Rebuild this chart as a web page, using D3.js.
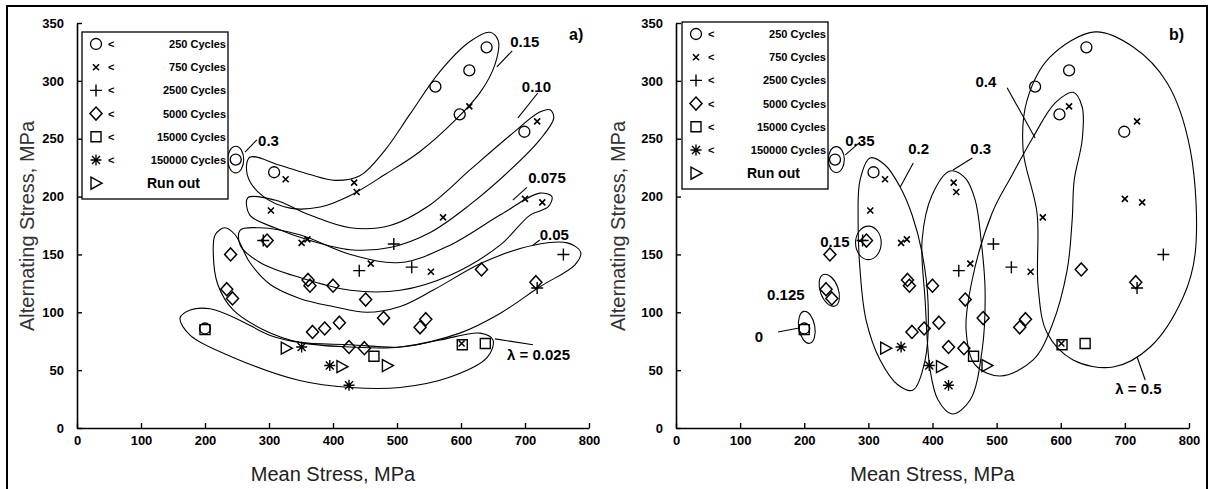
<!DOCTYPE html>
<html><head><meta charset="utf-8">
<script src="https://cdn.jsdelivr.net/npm/d3@7"></script>
<style>body{margin:0;background:#fff}svg{display:block}</style>
</head><body>
<svg id="fig" width="1211" height="489"></svg>
<script>
// Axis ticks
const xTickValues = [0, 100, 200, 300, 400, 500, 600, 700, 800];
const yTickValues = [0, 50, 100, 150, 200, 250, 300, 350];

// Test results: [mean stress, alternating stress] in MPa, grouped by life
const lifeCircle = [[200, 86], [248, 232], [308, 221], [560, 295], [598, 271], [613, 309], [640, 329], [699, 256]];
const lifeCross = [[303, 188], [326, 215], [351, 160], [360, 163], [433, 212], [437, 204], [459, 142], [553, 135], [572, 182], [601, 73], [613, 278], [700, 198], [719, 265], [727, 195]];
const lifePlus = [[291, 162], [441, 136], [495, 159], [523, 139], [719, 121], [760, 150]];
const lifeDiamond = [[234, 120], [240, 150], [243, 112], [297, 162], [361, 128], [364, 123], [368, 83], [387, 86], [400, 123], [410, 91], [425, 70], [449, 69], [451, 111], [479, 95], [536, 87], [545, 94], [632, 137], [717, 126]];
const lifeSquare = [[200, 85], [464, 62], [602, 72], [638, 73]];
const lifeStar = [[351, 70], [395, 54], [425, 37]];
const runOut = [[327, 69], [414, 53], [485, 54]];

const legendLabels = ["250 Cycles", "750 Cycles", "2500 Cycles", "5000 Cycles", "15000 Cycles", "150000 Cycles", "Run out"];

// Enclosing outlines, panel (a): closed curves through [mean, alternating] points
const outlinesA = [
  [[270, 234], [317, 227], [364, 219], [403, 214], [442, 218], [481, 240], [520, 271], [567, 308], [614, 334], [645, 342], [658, 335], [653, 314], [630, 290], [591, 266], [536, 239], [481, 219], [427, 201], [380, 191], [333, 190], [289, 201], [266, 219]],
  [[267, 199], [309, 197], [364, 184], [427, 173], [489, 175], [552, 193], [614, 223], [677, 253], [723, 273], [739, 275], [745, 268], [723, 249], [677, 223], [614, 193], [552, 169], [489, 156], [427, 154], [364, 162], [309, 173], [270, 184]],
  [[255, 171], [286, 173], [348, 167], [427, 150], [505, 143], [583, 158], [661, 184], [723, 203], [742, 200], [736, 191], [708, 184], [661, 158], [583, 132], [505, 119], [427, 119], [348, 130], [286, 143], [255, 158]],
  [[231, 173], [247, 167], [270, 143], [302, 124], [348, 112], [400, 105], [453, 100], [505, 105], [556, 119], [634, 143], [713, 158], [766, 160], [787, 152], [778, 141], [723, 122], [661, 99], [598, 82], [505, 70], [427, 70], [348, 74], [291, 85], [244, 102], [220, 124], [213, 150], [216, 167]],
  [[161, 95], [177, 102], [208, 103], [255, 93], [302, 80], [348, 74], [427, 72], [505, 70], [567, 76], [630, 82], [650, 76], [641, 61], [583, 44], [505, 35], [427, 35], [348, 41], [244, 61], [177, 80]]
];
// Small ellipses: [centre mean, centre alternating, half-width, half-height, tilt deg]
const ellipsesA = [[248, 232, 12.5, 11.5, 0]];
// Outline labels: [text, x, y] and leader lines [x1, y1, x2, y2]
const labelsA = [["0.3", 283, 244], ["0.15", 677, 329], ["0.10", 695, 290], ["0.075", 705, 212], ["0.05", 723, 162.5], ["\u03bb = 0.025", 672, 59]];
const leadersA = [[262.5, 238.5, 281, 249], [656, 312, 680, 326], [720, 289.5, 689, 268], [703, 208, 681, 197], [712.5, 158, 723, 162.5], [653, 77, 712.5, 72]];

// Enclosing outlines, panel (b)
const outlinesB = [
  [[653.7, 342.3], [713, 329.3], [766, 298.2], [802, 240.3], [809.7, 151.3], [791, 113.2], [739.5, 70], [681.7, 52.7], [619.3, 58.8], [578.8, 82.1], [564.7, 121.9], [563, 185.8], [541.3, 240.3], [547.6, 283.5], [583.5, 320.7]],
  [[619.3, 290.1], [633.4, 277.4], [633.4, 248.9], [621, 214.3], [617.8, 179.8], [610, 136.6], [586.6, 89], [557, 58.8], [505.5, 45], [466.5, 54.5], [452.4, 84.7], [461.8, 127.9], [493, 185.8], [524.2, 218.7], [557, 251.5], [591.3, 280.9]],
  [[427.5, 222.1], [450.9, 216.1], [466.5, 197.1], [475.8, 162.5], [482, 119.3], [477.4, 67.4], [458.7, 24.2], [430.6, 12.1], [408.7, 24.2], [396.3, 50.1], [388.5, 110.6], [383.8, 162.5], [399.4, 201.4]],
  [[302.7, 233.4], [326, 227.3], [349.5, 208.3], [368.2, 184.1], [383.8, 151.3], [393.1, 108], [388.5, 58.8], [369.7, 32.8], [346.3, 37.2], [318.3, 58.8], [296.4, 93.3], [287, 136.6], [284, 179.8], [287, 214.3]]
];
const ellipsesB = [[250, 232, 12.5, 11.2, 0], [300, 160, 20, 14.5, 0], [239, 119, 14, 14.5, -20], [204, 87, 12.5, 14, -10]];
const labelsB = [["0.35", 264, 244], ["0.2", 362, 237], ["0.3", 459, 237], ["0.4", 467, 295], ["0.15", 225, 156], ["0.125", 142, 111], ["0", 123, 74], ["\u03bb = 0.5", 685, 29]];
const leadersB = [[264, 236, 287, 247], [370, 229, 349.5, 208], [462, 233.4, 432, 223], [516.4, 294, 560, 250.6], [284, 161, 296, 162.5], [159, 83, 192, 86.4], [731.7, 41.5, 719, 61.4]];

const svg = d3.select("#fig");
const ink = "#000";

// Outer frame
svg.append("path").attr("d", "M7,489V6H1207V489").attr("fill", "none").attr("stroke", ink).attr("stroke-width", 2);

function marker(type) {
  switch (type) {
    case "circle": return "M5.5,0A5.5,5.5,0,1,1,-5.5,0A5.5,5.5,0,1,1,5.5,0Z";
    case "cross": return "M-3,-3L3,3M-3,3L3,-3";
    case "plus": return "M-6,0H6M0,-6V6";
    case "diamond": return "M0,-6.5L6,0L0,6.5L-6,0Z";
    case "square": return "M-5,-5H5V5H-5Z";
    case "star": return "M-5.5,0H5.5M0,-5.5V5.5M-4,-4L4,4M-4,4L4,-4";
    case "tri": return "M-5,-6L6,0L-5,6Z";
  }
}
const series = [
  [lifeCircle, "circle", 1.3], [lifeCross, "cross", 1.6], [lifePlus, "plus", 1.4],
  [lifeDiamond, "diamond", 1.5], [lifeSquare, "square", 1.4], [lifeStar, "star", 1.4], [runOut, "tri", 1.4]
];

function panel(opt) {
  const x = d3.scaleLinear().domain([0, 800]).range(opt.xr);
  const y = d3.scaleLinear().domain([0, 350]).range([428, 23]);
  const g = svg.append("g");

  const xa = g.append("g").attr("transform", "translate(0,428)")
    .call(d3.axisBottom(x).tickValues(xTickValues).tickSizeInner(-5).tickSizeOuter(0).tickPadding(8));
  const ya = g.append("g").attr("transform", `translate(${opt.xr[0]},0)`)
    .call(d3.axisLeft(y).tickValues(yTickValues).tickSizeInner(-5).tickSizeOuter(0).tickPadding(13));
  [xa, ya].forEach(a => {
    a.select(".domain").attr("stroke", ink).attr("stroke-width", 1.6);
    a.selectAll(".tick line").attr("stroke", ink).attr("stroke-width", 1.4);
    a.selectAll(".tick text").attr("fill", ink).style("font", "bold 13px Arial, 'Liberation Sans', sans-serif");
  });

  // axis titles
  g.append("text").attr("x", x(400)).attr("y", 481).attr("text-anchor", "middle")
    .style("font", "20px Arial, 'Liberation Sans', sans-serif").attr("fill", "#222").text("Mean Stress, MPa");
  g.append("text").attr("transform", `translate(${opt.ytx},226) rotate(-90)`).attr("text-anchor", "middle")
    .style("font", "20px Arial, 'Liberation Sans', sans-serif").attr("fill", "#333").text("Alternating Stress, MPa");

  // outlines
  const line = d3.line().x(d => x(d[0])).y(d => y(d[1])).curve(d3.curveCatmullRomClosed.alpha(0.5));
  g.selectAll(".outline").data(opt.outlines).join("path")
    .attr("d", line).attr("fill", "none").attr("stroke", ink).attr("stroke-width", 1.1);
  g.selectAll(".ell").data(opt.ellipses).join("ellipse")
    .attr("transform", d => `translate(${x(d[0])},${y(d[1])}) rotate(${d[4]})`)
    .attr("rx", d => x(d[2]) - x(0)).attr("ry", d => y(0) - y(d[3]))
    .attr("fill", "none").attr("stroke", ink).attr("stroke-width", 1.1);
  g.selectAll(".leader").data(opt.leaders).join("line")
    .attr("x1", d => x(d[0])).attr("y1", d => y(d[1])).attr("x2", d => x(d[2])).attr("y2", d => y(d[3]))
    .attr("stroke", ink).attr("stroke-width", 1.1);
  g.selectAll(".lbl").data(opt.labels).join("text")
    .attr("x", d => x(d[1])).attr("y", d => y(d[2]))
    .style("font", "bold 15px Arial, 'Liberation Sans', sans-serif").attr("fill", ink).text(d => d[0]);

  // data markers
  series.forEach(([pts, type, sw]) => {
    g.append("g").selectAll("path").data(pts).join("path")
      .attr("transform", d => `translate(${x(d[0])},${y(d[1])})`)
      .attr("d", marker(type)).attr("fill", "none").attr("stroke", ink).attr("stroke-width", sw);
  });

  // panel tag
  g.append("text").attr("x", opt.xr[1] - 20).attr("y", 40)
    .style("font", "bold 16px Arial, 'Liberation Sans', sans-serif").attr("fill", ink).text(opt.tag);

  // legend
  const lg = g.append("g").attr("transform", `translate(${opt.xr[0] + opt.lg[0]},${opt.lg[1]})`);
  lg.append("rect").attr("width", 146).attr("height", 167).attr("fill", "#fff").attr("stroke", ink).attr("stroke-width", 1.3);
  series.forEach(([pts, type, sw], i) => {
    const row = lg.append("g").attr("transform", `translate(0,${12 + i * 23.2})`);
    row.append("path").attr("transform", "translate(14,0)").attr("d", marker(type))
      .attr("fill", "none").attr("stroke", ink).attr("stroke-width", sw);
    if (i < 6) {
      row.append("text").attr("x", 26).attr("y", 4).style("font", "bold 11px Arial, 'Liberation Sans', sans-serif").text("<");
      row.append("text").attr("x", 144).attr("y", 4).attr("text-anchor", "end")
        .style("font", "bold 11px Arial, 'Liberation Sans', sans-serif").text(legendLabels[i]);
    } else {
      row.append("text").attr("x", 65).attr("y", 5).style("font", "bold 14px Arial, 'Liberation Sans', sans-serif").text(legendLabels[i]);
    }
  });
}

panel({ xr: [77, 589], ytx: 34, tag: "a)", lg: [5, 32], outlines: outlinesA, ellipses: ellipsesA, labels: labelsA, leaders: leadersA });
panel({ xr: [676, 1189], ytx: 625, tag: "b)", lg: [6, 22], outlines: outlinesB, ellipses: ellipsesB, labels: labelsB, leaders: leadersB });
</script>
</body></html>
